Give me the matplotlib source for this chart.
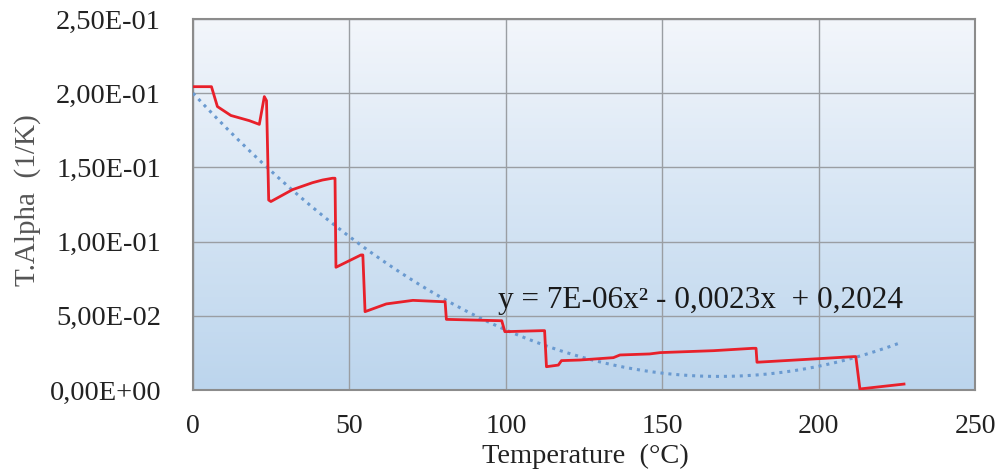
import numpy as np
import matplotlib
matplotlib.use("Agg")
import matplotlib.pyplot as plt
from matplotlib.colors import LinearSegmentedColormap

# Data
temp = [0.3, 5.9, 7.8, 12.1, 18.0, 21.2, 22.8, 23.5, 24.2, 24.9, 31.8, 38.2, 41.4, 44.6,
        45.4, 45.7, 53.7, 54.3, 55.0, 61.8, 70.3, 79.9, 80.6, 81.0, 98.0, 98.7, 99.7,
        111.8, 112.4, 113.0, 116.8, 117.8, 123.7, 134.4, 136.5, 146.0, 149.4, 166.4,
        179.0, 180.0, 180.3, 211.3, 211.9, 213.2, 227.3]
alpha = [0.2044, 0.2044, 0.1910, 0.1850, 0.1815, 0.1790, 0.1977, 0.1950, 0.1280, 0.1270,
         0.1350, 0.1397, 0.1415, 0.1427, 0.1427, 0.0827, 0.0910, 0.0910, 0.0528, 0.0580,
         0.0604, 0.0595, 0.0595, 0.0476, 0.0467, 0.0467, 0.0393, 0.0400, 0.0400, 0.0157,
         0.0168, 0.0198, 0.0202, 0.0218, 0.0236, 0.0243, 0.0252, 0.0265, 0.0281, 0.0281,
         0.0187, 0.0225, 0.0225, 0.0007, 0.0040]
trend_coef = [6.75e-6, -0.00227, 0.200]
trend_range = [0.0, 226.5]
equation_label = "y = 7E-06x² - 0,0023x  + 0,2024"
x_ticks = [0, 50, 100, 150, 200, 250]
y_ticks = [0.0, 0.05, 0.10, 0.15, 0.20, 0.25]
y_tick_labels = ["0,00E+00", "5,00E-02", "1,00E-01", "1,50E-01", "2,00E-01", "2,50E-01"]

plt.rcParams['font.family'] = ['Liberation Serif', 'DejaVu Serif']

fig = plt.figure(figsize=(10.05, 4.72), dpi=100)
ax = fig.add_axes([193/1005, 1 - 390/472, (975-193)/1005, (390-19)/472])

# gradient background
cmap = LinearSegmentedColormap.from_list("bg", ["#f3f6fb", "#d6e5f4", "#bcd5ed"])
grad = np.linspace(0, 1, 256).reshape(-1, 1)
ax.imshow(grad, aspect='auto', cmap=cmap, extent=[0, 1, 0, 1],
          transform=ax.transAxes, zorder=0)

ax.set_xlim(0, 250)
ax.set_ylim(0, 0.25)

# trend line
xt = np.linspace(trend_range[0], trend_range[1], 300)
yt = np.polyval(trend_coef, xt)
ax.plot(xt, yt, linestyle=(0, (1, 1.6)), color="#6a9ad0", linewidth=2.2, zorder=3)

# data
ax.plot(temp, alpha, color="#e8202a", linewidth=2.0, zorder=4)

ax.text(97.5, 0.0600, equation_label, fontsize=22.5, color="#1a1a1a",
        va='center', ha='left', zorder=5)

ax.set_xticks(x_ticks)
ax.set_yticks(y_ticks)
ax.set_yticklabels(y_tick_labels)
ax.tick_params(axis='both', length=0, labelsize=20.5, colors="#222222")
ax.tick_params(axis='x', pad=17, labelsize=20)
ax.tick_params(axis='y', pad=23)

ax.grid(True, color="#9a9ea3", linewidth=1.0, zorder=1)
ax.set_axisbelow(True)
for s in ax.spines.values():
    s.set_color("#8c8c8c")
    s.set_linewidth(1.5)

fig.text(585/1005, 1 - 456/472, "Temperature  (°C)", fontsize=20.5, ha='center',
         va='center', color="#222222")
fig.text(28/1005, 1 - 200/472, "T.Alpha  (1/K)", fontsize=21, ha='center',
         va='center', rotation=90, color="#555555")

fig.savefig("out.png", dpi=100)
